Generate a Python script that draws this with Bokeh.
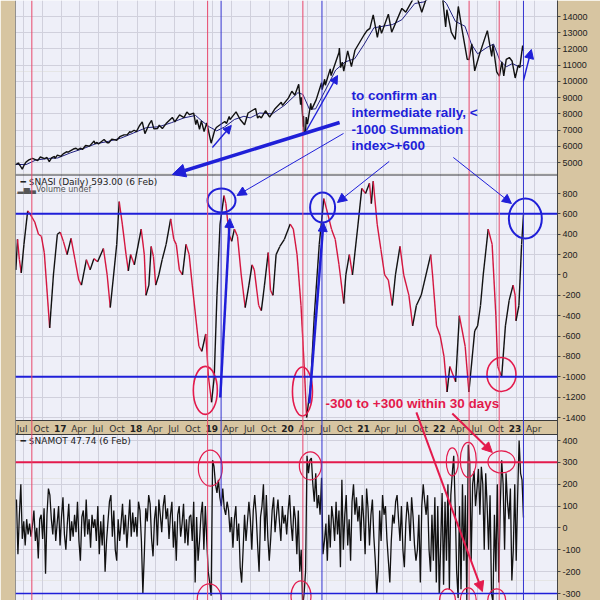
import pandas as pd
from bokeh.plotting import figure
from bokeh.models import Range1d, LinearAxis, FixedTicker, Grid, Span, Arrow, NormalHead
from bokeh.core.properties import value
from bokeh.embed import file_html
from bokeh.resources import INLINE

# ---------------- data ----------------
nasdaq_dates = ["2016-05-25", "2016-06-08", "2016-06-17", "2016-06-27", "2016-07-05", "2016-07-15", "2016-07-29",
                "2016-08-15", "2016-09-09", "2016-09-22", "2016-10-12", "2016-10-24", "2016-11-04", "2016-11-15",
                "2016-11-29", "2016-12-02", "2016-12-13", "2016-12-30", "2017-01-12", "2017-01-26", "2017-02-03",
                "2017-02-28", "2017-03-13", "2017-03-22", "2017-04-05", "2017-04-13", "2017-04-28", "2017-05-17",
                "2017-06-08", "2017-06-12", "2017-06-22", "2017-06-29", "2017-07-26", "2017-08-10", "2017-08-18",
                "2017-09-01", "2017-09-25", "2017-10-10", "2017-10-30", "2017-11-15", "2017-11-28", "2017-12-01",
                "2017-12-18", "2017-12-29", "2018-01-12", "2018-01-26", "2018-02-08", "2018-02-27", "2018-03-12",
                "2018-03-23", "2018-04-10", "2018-04-18", "2018-05-03", "2018-05-21", "2018-06-20", "2018-07-02",
                "2018-07-25", "2018-08-15", "2018-08-29", "2018-09-11", "2018-10-01", "2018-10-11", "2018-10-17",
                "2018-10-29", "2018-11-07", "2018-11-20", "2018-12-03", "2018-12-10", "2018-12-24", "2019-01-10",
                "2019-01-18", "2019-01-31", "2019-02-28", "2019-03-08", "2019-03-21", "2019-03-25", "2019-04-23",
                "2019-05-13", "2019-06-03", "2019-06-20", "2019-07-26", "2019-08-05", "2019-08-12", "2019-08-23",
                "2019-09-12", "2019-10-02", "2019-10-28", "2019-11-27", "2019-12-03", "2019-12-31", "2020-01-17",
                "2020-01-31", "2020-02-19", "2020-02-28", "2020-03-03", "2020-03-12", "2020-03-13", "2020-03-16",
                "2020-03-23", "2020-03-26", "2020-04-01", "2020-04-17", "2020-04-21", "2020-05-13", "2020-06-08",
                "2020-06-11", "2020-06-23", "2020-06-26", "2020-07-20", "2020-07-24", "2020-08-31", "2020-09-02",
                "2020-09-08", "2020-09-16", "2020-09-23", "2020-10-12", "2020-10-30", "2020-11-16", "2020-12-31",
                "2021-01-13", "2021-01-27", "2021-02-12", "2021-03-04", "2021-03-15", "2021-03-24", "2021-04-26",
                "2021-05-12", "2021-06-30", "2021-07-19", "2021-08-31", "2021-09-07", "2021-10-04", "2021-11-19",
                "2021-12-01", "2021-12-27", "2022-01-12", "2022-01-27", "2022-02-02", "2022-02-23", "2022-03-14",
                "2022-03-29", "2022-04-14", "2022-05-11", "2022-05-20", "2022-06-02", "2022-06-16", "2022-07-08",
                "2022-08-16", "2022-09-06", "2022-09-12", "2022-09-30", "2022-10-13", "2022-10-25", "2022-11-03",
                "2022-11-15", "2022-11-30", "2022-12-13", "2022-12-28", "2023-01-12", "2023-01-19", "2023-02-02",
                "2023-02-06"]
nasdaq_close = [4860, 4970, 4800, 4590, 4820, 5030, 5160,
                5260, 5120, 5340, 5240, 5310, 5050, 5280,
                5370, 5250, 5460, 5380, 5550, 5660, 5640,
                5830, 5880, 5790, 5880, 5800, 6050, 6010,
                6320, 6170, 6240, 6140, 6420, 6220, 6220,
                6440, 6370, 6590, 6700, 6710, 6910, 6850,
                6990, 6900, 7250, 7500, 6780, 7330, 7590,
                7070, 7100, 7300, 7090, 7400, 7780, 7510,
                7930, 7770, 8110, 7950, 8040, 7330, 7640,
                7050, 7570, 6910, 7440, 7020, 6190, 6970,
                7160, 7280, 7530, 7400, 7840, 7640, 8120,
                7650, 7330, 8050, 8330, 7730, 7860, 7750,
                8190, 7790, 8320, 8710, 8520, 8970, 9390,
                9150, 9820, 8570, 9020, 7200, 7870, 6900,
                6860, 7800, 7360, 8650, 8260, 8860, 9920,
                9490, 10130, 9760, 10770, 10360, 11780, 12060,
                10850, 11190, 10630, 11880, 10910, 11920, 12890,
                13130, 13270, 14100, 12720, 13460, 12960, 14140,
                13030, 14500, 14270, 15260, 15370, 14260, 16060,
                15250, 15870, 15190, 13350, 14420, 13040, 12580,
                14620, 13350, 11360, 11350, 12320, 10650, 11630,
                13130, 11540, 12270, 10580, 10320, 11200, 10340,
                11360, 11470, 11260, 10210, 11000, 10850, 12200,
                11890]

nasdaq_ma_dates = ["2016-05-25", "2016-07-15", "2016-08-31", "2016-10-31", "2016-12-15", "2017-02-15", "2017-04-15",
                   "2017-06-15", "2017-08-15", "2017-10-15", "2017-12-15", "2018-02-15", "2018-04-15", "2018-06-15",
                   "2018-08-15", "2018-10-10", "2018-11-10", "2018-12-15", "2019-01-20", "2019-02-28", "2019-04-15",
                   "2019-05-31", "2019-06-30", "2019-08-15", "2019-10-15", "2019-12-15", "2020-02-15", "2020-03-10",
                   "2020-04-10", "2020-05-10", "2020-06-20", "2020-08-15", "2020-09-30", "2020-11-15", "2020-12-31",
                   "2021-02-15", "2021-03-31", "2021-05-15", "2021-06-30", "2021-08-31", "2021-10-15", "2021-12-15",
                   "2022-01-31", "2022-03-15", "2022-04-30", "2022-05-31", "2022-06-30", "2022-08-15", "2022-09-15",
                   "2022-10-15", "2022-11-15", "2022-12-15", "2023-01-15", "2023-02-06"]
nasdaq_ma = [4880, 4870, 5150, 5250, 5280, 5600, 5850,
             6150, 6300, 6500, 6820, 7150, 7200, 7450,
             7750, 7900, 7550, 7200, 6950, 7200, 7650,
             7850, 7750, 8050, 8000, 8550, 9300, 9200,
             8300, 8300, 9300, 10700, 11200, 11400, 12300,
             13300, 13400, 13500, 13800, 14800, 14900, 15400,
             14800, 13700, 13400, 12300, 11700, 12100, 12300,
             11300, 10900, 11100, 10900, 11000]

nasi_dates = ["2016-05-27", "2016-06-04", "2016-06-13", "2016-06-22", "2016-07-05", "2016-07-23", "2016-08-03",
              "2016-08-26", "2016-09-13", "2016-09-27", "2016-10-11", "2016-11-06", "2016-11-24", "2016-12-13",
              "2016-12-27", "2017-01-11", "2017-01-29", "2017-02-17", "2017-03-08", "2017-03-26", "2017-04-08",
              "2017-05-02", "2017-05-20", "2017-06-07", "2017-06-25", "2017-07-23", "2017-08-10", "2017-08-25",
              "2017-09-10", "2017-09-25", "2017-10-07", "2017-10-22", "2017-11-09", "2017-11-20", "2017-12-01",
              "2017-12-19", "2018-01-21", "2018-02-05", "2018-02-13", "2018-02-27", "2018-03-10", "2018-03-21",
              "2018-04-01", "2018-04-16", "2018-05-02", "2018-05-21", "2018-06-12", "2018-06-27", "2018-07-09",
              "2018-07-24", "2018-08-08", "2018-08-25", "2018-09-09", "2018-09-24", "2018-10-26", "2018-11-09",
              "2018-11-28", "2018-12-11", "2018-12-26", "2019-01-08", "2019-01-21", "2019-02-05", "2019-02-24",
              "2019-03-05", "2019-03-20", "2019-04-02", "2019-04-15", "2019-04-30", "2019-05-18", "2019-06-06",
              "2019-06-24", "2019-07-09", "2019-07-20", "2019-08-10", "2019-08-23", "2019-09-07", "2019-09-25",
              "2019-10-06", "2019-10-18", "2019-11-02", "2019-11-20", "2019-12-12", "2020-01-09", "2020-01-24",
              "2020-02-11", "2020-03-01", "2020-03-19", "2020-03-28", "2020-04-16", "2020-05-04", "2020-05-28",
              "2020-06-19", "2020-07-08", "2020-07-26", "2020-08-13", "2020-08-31", "2020-09-23", "2020-10-03",
              "2020-10-20", "2020-11-04", "2020-12-01", "2020-12-19", "2021-01-06", "2021-01-25", "2021-02-03",
              "2021-02-12", "2021-03-03", "2021-03-21", "2021-04-08", "2021-04-26", "2021-05-15", "2021-05-30",
              "2021-06-21", "2021-07-09", "2021-08-03", "2021-08-21", "2021-09-08", "2021-10-01", "2021-11-16",
              "2021-11-25", "2021-12-14", "2022-01-01", "2022-01-19", "2022-02-03", "2022-02-16", "2022-03-16",
              "2022-04-03", "2022-05-01", "2022-05-19", "2022-06-16", "2022-06-30", "2022-07-14", "2022-07-27",
              "2022-08-20", "2022-09-08", "2022-09-26", "2022-10-05", "2022-10-24", "2022-11-11", "2022-11-29",
              "2022-12-18", "2022-12-28", "2023-01-01", "2023-01-15", "2023-01-28", "2023-02-06"]
nasi_values = [50, 350, 150, 20, 300, 630, 600,
               520, 400, 380, 220, -520, 0, 400,
               420, 330, 200, 360, 150, -50, -100,
               150, 50, 160, 130, 260, 0, -320,
               0, 300, 720, 500, 200, 40, 200,
               100, 450, 200, -200, -100, 280, 180,
               -100, 0, 150, 300, 550, 350, 300,
               50, 0, 300, 200, -100, -700, -750,
               -580, -1000, -1250, -1000, -200, 500, 780,
               700, 400, 330, 450, 380, 0, -320,
               -100, 100, 50, -300, -350, -100, 220,
               -150, -200, 200, 280, 350, 500, 450,
               200, -300, -1000, -1400, -1100, -400, 300,
               750, 600, 450, 350, 100, -280, 0,
               200, 0, 500, 850, 800, 900, 700,
               920, 500, 250, 0, -50, -300, 0,
               280, 0, -200, -500, -300, -200, 200,
               0, -500, -600, -800, -1150, -900, -1050,
               -400, -700, -1150, -550, -500, -300, 0,
               450, 300, -400, -900, -1000, -500, -250,
               -100, -200, -450, -300, 300, 593]

namot_first_week = "2016-05-30"
namot_weekly = [
    130, -120, 60, 200, -50, 30, -80, 40, -30, 20, -40, 10, 80,
    -60, 0, -140, 40, 60, -50, 90, -210, 60, 180, 150, 40, -30,
    90, -60, 20, 100, -80, 50, 140, -30, -100, 20, 110, -60, 30,
    -40, 60, -20, 120, -60, -150, 50, 80, -40, 130, -30, 40, -90,
    60, 0, 40, -60, 100, -120, 30, -80, 60, -200, -60, 30, 120,
    150, -40, 80, -100, -150, 40, -60, 20, 110, -30, 60, -90, 20,
    130, -40, 70, -20, 50, -40, 120, 80, -60, -300, -120, 90, 30,
    150, 110, -50, -130, 40, 100, -80, 130, 60, -20, 100, 150, 40,
    90, -50, 60, 120, -90, 30, -150, 60, 100, -40, 20, 110, -70,
    40, -80, 50, 60, -60, 120, -250, 50, -150, -60, 60, 120, -100,
    100, -60, -200, -250, -310, 310, 280, 200, 160, 220, 140, 100, 180,
    90, 60, 120, 80, -20, 50, -90, 40, 100, -60, 20, -180, -250,
    -100, 60, -60, 30, 120, 40, -100, 80, 150, 60, -80, -200, 50,
    100, 200, -60, 150, -40, -150, -50, 80, 140, -20, 60, 130, 30,
    -60, 100, 20, 60, -30, 80, 150, 20, -60, 100, 40, -120, 80,
    -200, -100, -360, -300, -200, 330, 250, 310, 320, 200, 120, 250, 90,
    150, 60, 230, -120, -60, 20, -150, 60, -90, 100, 40, -60, 120,
    -30, 80, -180, 220, -100, 60, 150, -80, 40, -150, 120, 200, 60,
    140, 30, 100, -60, 150, 40, -120, 180, 90, -80, 60, 130, -40,
    -150, -300, -200, 80, -60, 150, 60, 100, -50, -150, -250, -60, 60,
    20, 120, 150, 40, -60, 100, -100, -180, 20, 120, 60, -60, 140,
    50, -80, -150, -100, 60, -250, 100, 200, 120, 60, 150, -100, -200,
    60, -150, 140, -250, 100, -300, -80, 160, -260, 120, -150, 200, -280,
    150, 250, 330, 100, -200, -320, 100, -280, 200, -150, 150, -330, 380,
    300, -150, 200, 260, 100, 180, 270, 60, 280, 200, -100, 250, 100,
    -100, 150, -300, -340, 60, -200, 200, -250, 100, 310, 200, -100, 250,
    120, 40, 180, -240, -100, 200, -150, 150, 400, 250, 220, 48]

quarter_labels = ["Jul", "Oct",
                  "17", "Apr", "Jul", "Oct", "18", "Apr", "Jul", "Oct", "19", "Apr", "Jul", "Oct",
                  "20", "Apr", "Jul", "Oct", "21", "Apr", "Jul", "Oct", "22", "Apr", "Jul", "Oct",
                  "23", "Apr"]
top_ticks = [5000, 6000, 7000, 8000, 9000, 10000, 11000, 12000, 13000, 14000]
mid_ticks = [-1400, -1200, -1000, -800, -600, -400, -200, 0, 200, 400, 600, 800]
bot_ticks = [-300, -200, -100, 0, 100, 200, 300, 400]

red_event_dates = ["2016-08-12", "2018-12-07", "2020-03-10", "2022-05-20", "2022-10-12"]
blue_event_dates = ["2019-02-10", "2020-06-10", "2023-02-06"]
nasi_levels = [600, -1000]
namot_red_level = 300
namot_blue_level = -300

# annotations in data coordinates (date, value of their panel)
blue_circle_dates = ["2019-02-12", "2020-06-13", "2023-02-15"]
blue_circle_vals = [732, 663, 555]
red_circle_dates = ["2018-11-26", "2020-03-08", "2022-10-23"]
red_circle_vals = [-1134, -1144, -977]
namot_circle_dates = ["2018-12-20", "2020-04-15", "2022-02-28", "2022-05-16", "2022-10-23",
                      "2018-12-15", "2020-03-01", "2022-02-05", "2022-05-16", "2022-09-30"]
namot_circle_vals = [274, 284, 302, 311, 302, -325, -311, -334, -334, -334]

note_lines = ["to confirm an", "intermediate rally, <", "-1000 Summation", "index>+600"]
note_date = "2020-10-30"
note_vals = [9130, 8082, 7065, 6048]
red_note = "-300 to +300 within 30 days"

# ---------------- layout / style ----------------
TAN = "#d7c5a1"
LAV = "#eeeff8"
GRID = "#d0d0dc"
RED = "#e31a4c"
RED_V = "#e8476b"
BLUE = "#1f1fd8"
BLUE_V = "#3535d0"
FONT = "DejaVu Sans"

W = H = 600
FRAME_T, FRAME_B = 0, 600          # pixel rows covered by the plot frame
FRAME_L, FRAME_R = 15, 557
X_REF_DATE, X_REF_PX, PX_PER_YEAR = pd.Timestamp("2023-01-01"), 515.5, 75.8


def date_at(px):
    return X_REF_DATE + pd.Timedelta(days=(px - X_REF_PX) / PX_PER_YEAR * 365.25)


def range_from(v1, y1, v2, y2):
    k = (v1 - v2) / (y2 - y1)
    return Range1d(start=v1 + (y1 - FRAME_B) * k, end=v1 + (y1 - FRAME_T) * k)


mid = range_from(800, 193, -1400, 417)
top = range_from(14000, 16, 5000, 162)
bot = range_from(400, 440, -300, 593)


def mid_at(px):
    return mid.end - (px - FRAME_T) / (FRAME_B - FRAME_T) * (mid.end - mid.start)


def as_mid(v, r):
    return round(mid.start + (v - r.start) / (r.end - r.start) * (mid.end - mid.start), 6)


def ts(s):
    return pd.Timestamp(s)


xr = Range1d(start=date_at(FRAME_L), end=date_at(FRAME_R))

p = figure(width=W, height=H, x_range=xr, y_range=mid,
           x_axis_location=None, y_axis_location=None,
           toolbar_location=None, output_backend="svg",
           min_border_left=FRAME_L, min_border_right=W - FRAME_R,
           min_border_top=0, min_border_bottom=0,
           background_fill_color=LAV, border_fill_color=TAN, outline_line_color=None)
p.extra_y_ranges = {"top": top, "bot": bot}

# right axis carrying the three panels' scales
tick_pos, tick_text = [], {}
for ticks, r in ((top_ticks, top), (mid_ticks, mid), (bot_ticks, bot)):
    for t in ticks:
        pos = as_mid(t, r)
        tick_pos.append(pos)
        tick_text[pos] = str(t)
axis = LinearAxis(ticker=FixedTicker(ticks=tick_pos), major_label_overrides=tick_text)
axis.major_label_text_font = "Liberation Sans"
axis.major_label_text_font_size = "9px"
axis.major_label_text_color = "#222222"
axis.major_label_standoff = 2
axis.major_tick_out = 3
axis.major_tick_in = 0
axis.minor_tick_out = 0
axis.axis_line_color = "#444444"
axis.major_tick_line_color = "#444444"
p.add_layout(axis, "right")

# grids
quarters = pd.date_range("2016-07-01", "2023-04-01", freq="QS")
p.add_layout(Grid(dimension=1, ticker=FixedTicker(ticks=tick_pos), grid_line_color=GRID))
p.add_layout(Grid(dimension=0, ticker=FixedTicker(ticks=[q.value / 1e6 for q in quarters]),
                  grid_line_color=GRID))

# date strip between middle and bottom panel
p.quad(left=[xr.start], right=[xr.end], top=[mid_at(420)], bottom=[mid_at(434)],
       fill_color=TAN, line_color=None)
for y in (174.5, 420, 434):
    p.add_layout(Span(location=mid_at(y), dimension="width", line_color="#3a3a3a", line_width=1))
p.add_layout(Span(location=xr.start, dimension="height", line_color="#3a3a3a", line_width=1))

month_idx = [i for i, t in enumerate(quarter_labels) if not t.isdigit()]
year_idx = [i for i, t in enumerate(quarter_labels) if t.isdigit()]
p.text(x=[quarters[i] for i in month_idx], y=[mid_at(428)] * len(month_idx),
       text=[quarter_labels[i] for i in month_idx], text_align="center", text_baseline="middle",
       text_font=value(FONT), text_font_size="9px", text_color="#333333", x_offset=-1)
p.text(x=[quarters[i] for i in year_idx], y=[mid_at(428)] * len(year_idx),
       text=[quarter_labels[i] for i in year_idx], text_align="center", text_baseline="middle",
       text_font=value(FONT), text_font_size="9px", text_font_style="bold", text_color="#222222",
       x_offset=-1)

# top panel: Nasdaq and its moving average
p.line([ts(d) for d in nasdaq_ma_dates], nasdaq_ma, y_range_name="top", line_color="#202080", line_width=1)
p.line([ts(d) for d in nasdaq_dates], nasdaq_close, y_range_name="top", line_color="#111111", line_width=1.4)

# middle panel: $NASI, red while falling, black while rising
nd = [ts(d) for d in nasi_dates]
p.segment(x0=nd[:-1], y0=nasi_values[:-1], x1=nd[1:], y1=nasi_values[1:],
          line_color=["#111111" if b >= a else "#d4163f" for a, b in zip(nasi_values[:-1], nasi_values[1:])],
          line_width=1.4)

# bottom panel: $NAMOT
namot_dates = pd.date_range(namot_first_week, periods=len(namot_weekly), freq="7D")
p.line(namot_dates, namot_weekly, y_range_name="bot", line_color="#111111", line_width=1.3)

# horizontal reference levels
for lv in nasi_levels:
    p.add_layout(Span(location=lv, dimension="width", line_color=BLUE, line_width=2))
p.add_layout(Span(location=namot_red_level, y_range_name="bot", dimension="width", line_color=RED, line_width=2))
p.add_layout(Span(location=namot_blue_level, y_range_name="bot", dimension="width", line_color=BLUE,
                  line_width=1.5))

# vertical event lines
for d in red_event_dates:
    p.add_layout(Span(location=ts(d).value / 1e6, dimension="height", line_color=RED_V, line_width=1))
for d in blue_event_dates:
    p.add_layout(Span(location=ts(d).value / 1e6, dimension="height", line_color=BLUE_V, line_width=1))

# circles
p.ellipse(x=[ts(d) for d in blue_circle_dates], y=blue_circle_vals, width=[28, 25, 33], height=[24, 30, 40],
          width_units="screen", height_units="screen", fill_color=None, line_color=BLUE, line_width=2)
p.ellipse(x=[ts(d) for d in red_circle_dates], y=red_circle_vals, width=[24, 20, 29], height=[48, 49, 34],
          width_units="screen", height_units="screen", fill_color=None, line_color=RED, line_width=1.6)
p.ellipse(x=[ts(d) for d in namot_circle_dates], y=namot_circle_vals, y_range_name="bot",
          width=[24, 22, 12, 16, 27, 24, 20, 16, 16, 18], height=[36, 28, 28, 35, 22, 30, 30, 24, 26, 24],
          width_units="screen", height_units="screen", fill_color=None, line_color=RED, line_width=1.2)

# arrows
arrows = [
    ("2020-09-03", 7466, "2018-06-20", 4260, "top", BLUE, 3.5, 13),
    ("2020-09-22", 1390, "2019-04-28", 781, "default", BLUE, 1, 9),
    ("2021-04-30", 1115, "2020-08-24", 712, "default", BLUE, 1, 9),
    ("2022-03-05", 1154, "2022-12-10", 702, "default", BLUE, 1, 9),
    ("2018-12-30", 5925, "2019-03-31", 7281, "top", BLUE, 1.4, 8),
    ("2020-03-27", 6973, "2020-08-24", 10363, "top", BLUE, 1.4, 8),
    ("2023-02-06", 10055, "2023-03-16", 11966, "top", BLUE, 1.4, 9),
    ("2019-02-06", -1203, "2019-03-24", 555, "default", BLUE, 2.5, 9),
    ("2020-04-10", -1262, "2020-06-17", 516, "default", BLUE, 2.5, 9),
    ("2021-09-08", -1350, "2022-07-23", -3110, "default", RED, 2, 10),
    ("2022-02-28", -1360, "2022-09-09", -1743, "default", RED, 2, 10),
]
for x0, y0, x1, y1, rn, col, lw, hs in arrows:
    p.add_layout(Arrow(x_start=ts(x0).value / 1e6, y_start=y0, x_end=ts(x1).value / 1e6, y_end=y1,
                       y_range_name=rn, line_color=col, line_width=lw,
                       end=NormalHead(size=hs, fill_color=col, line_color=col, line_width=1)))

# annotation texts
p.text(x=[ts(note_date)] * len(note_lines), y=note_vals, text=note_lines, y_range_name="top",
       text_font=value("Liberation Sans"), text_font_style="bold", text_font_size="13.5px",
       text_color=BLUE, text_baseline="middle")
p.text(x=[ts("2020-06-27")], y=[mid_at(403)], text=[red_note],
       text_font=value("Liberation Sans"), text_font_style="bold", text_font_size="13.5px",
       text_color=RED, text_baseline="middle")

# panel legends
p.text(x=[date_at(20)], y=[mid_at(181)], text=["\u2501 $NASI (Daily) 593.00 (6 Feb)"],
       text_font=value(FONT), text_font_size="9px", text_color="#222222", text_baseline="middle")
p.text(x=[date_at(17)], y=[mid_at(189)], text=["\u2582\u2585\u2583Volume undef"],
       text_font=value(FONT), text_font_size="8px", text_color="#555555", text_baseline="middle")
p.text(x=[date_at(20)], y=[mid_at(440)], text=["\u2501 $NAMOT 47.74 (6 Feb)"],
       text_font=value(FONT), text_font_size="9px", text_color="#222222", text_baseline="middle")

open("out.html", "w").write(file_html(p, INLINE))
